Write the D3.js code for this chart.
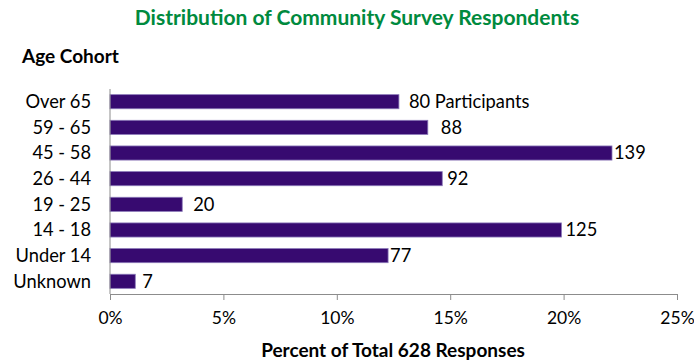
<!DOCTYPE html>
<html>
<head>
<meta charset="utf-8">
<script src="https://cdn.jsdelivr.net/npm/d3@7"></script>
<style>
  body { margin:0; background:#fff; }
  text { font-family: Lato, "Open Sans", sans-serif; }
</style>
</head>
<body>
<div id="chart"></div>
<script>
// age cohort bar chart
const COHORTS = ["Over 65","59 - 65","45 - 58","26 - 44","19 - 25","14 - 18","Under 14","Unknown"];
const COUNTS  = [80, 88, 139, 92, 20, 125, 77, 7];
const LABELS  = ["80 Participants","88","139","92","20","125","77","7"];
const TICKS   = [0, 0.05, 0.10, 0.15, 0.20, 0.25];
const TOTAL   = 628;
// Excel put the value labels at slightly uneven gaps
const labelGap = [10, 13, 2, 5, 11, 4, 2, 7];

const totalW = 694, totalH = 360;
const x0 = 110, x1 = 677, yTop = 89, yBot = 294;

const svg = d3.select("#chart").append("svg")
    .attr("width", totalW).attr("height", totalH);

const x = d3.scaleLinear().domain([0, 0.25]).range([x0, x1]);
const y = d3.scaleBand().domain(COHORTS).range([yTop, yBot]).paddingInner(0.45).paddingOuter(0.22);

const data = COHORTS.map((c, i) => ({ cohort: c, n: COUNTS[i], pct: COUNTS[i] / TOTAL, label: LABELS[i], dx: labelGap[i] }));

svg.selectAll("rect.bar").data(data).enter().append("rect")
    .attr("class", "bar")
    .attr("x", x(0)).attr("y", d => y(d.cohort))
    .attr("width", d => x(d.pct) - x(0)).attr("height", y.bandwidth())
    .attr("fill", "#370a70").attr("stroke", "#8a78b8").attr("stroke-width", 0.8);

svg.selectAll("text.val").data(data).enter().append("text")
    .attr("x", d => x(d.pct) + d.dx).attr("y", d => y(d.cohort) + y.bandwidth() / 2)
    .attr("dy", "0.35em").attr("fill", "#000").style("font-size", "18.3px")
    .text(d => d.label);

// y axis: line only, labels right aligned
svg.append("line").attr("x1", x0).attr("x2", x0).attr("y1", yTop).attr("y2", yBot)
    .attr("stroke", "#8c8c8c");
svg.selectAll("text.cat").data(COHORTS).enter().append("text")
    .attr("x", 91).attr("y", d => y(d) + y.bandwidth() / 2).attr("dy", "0.35em")
    .attr("text-anchor", "end").style("font-size", "18.3px").text(d => d);

// x axis
const xAxis = svg.append("g").attr("transform", `translate(0,${yBot})`)
    .call(d3.axisBottom(x).tickValues(TICKS).tickFormat(d3.format(".0%")).tickSize(6).tickPadding(12));
xAxis.select(".domain").attr("stroke", "#8c8c8c");
xAxis.selectAll(".tick line").attr("stroke", "#8c8c8c");
xAxis.selectAll(".tick text").attr("fill", "#000").style("font-size", "17.5px").style("font-family", "Lato, sans-serif");

svg.append("text").attr("x", 393).attr("y", 357).attr("text-anchor", "middle")
    .style("font-size", "19px").style("font-weight", "bold").text("Percent of Total 628 Responses");

svg.append("text").attr("x", 357).attr("y", 25).attr("text-anchor", "middle")
    .attr("fill", "#008a3e").style("font-size", "21px").style("font-weight", "bold")
    .text("Distribution of Community Survey Respondents");

svg.append("text").attr("x", 22).attr("y", 63)
    .style("font-size", "19px").style("font-weight", "bold").text("Age Cohort");
</script>
</body>
</html>
